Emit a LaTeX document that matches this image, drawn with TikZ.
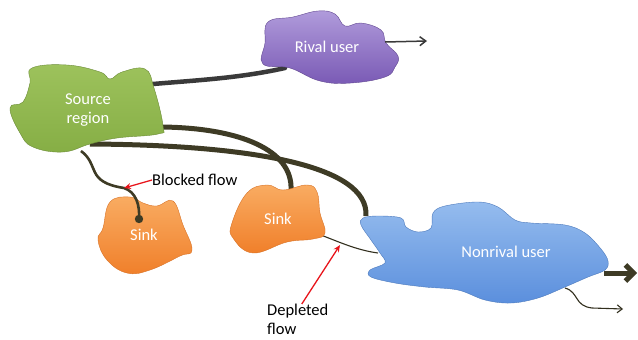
\documentclass[tikz,border=0pt]{standalone}
\usepackage{fontspec}
\setmainfont{Carlito}
\usetikzlibrary{arrows.meta}
\definecolor{flowc}{HTML}{3E3B25}
\definecolor{greyflow}{HTML}{3A3A3A}
\definecolor{redarr}{HTML}{E8141B}
\definecolor{grnT}{HTML}{9DC25C}
\definecolor{grnB}{HTML}{86AE45}
\definecolor{purT}{HTML}{B09BDB}
\definecolor{purB}{HTML}{7A5AB5}
\definecolor{orgT}{HTML}{F9AC62}
\definecolor{orgB}{HTML}{F07F2A}
\definecolor{bluT}{HTML}{95BCEE}
\definecolor{bluB}{HTML}{5B8FDD}
\begin{document}
\begin{tikzpicture}[x=1pt,y=-1pt,
  blob/.style={draw=#1, line width=0.4pt},
  lbl/.style={text=white, font=\fontsize{16.5}{19}\selectfont, align=center, inner sep=0pt},
  txt/.style={text=black, font=\fontsize{16.5}{19}\selectfont, inner sep=0pt},
  thickflow/.style={draw=flowc, line width=5pt},
  midflow/.style={draw=flowc, line width=2.6pt},
  thinflow/.style={draw=flowc!80!black, line width=1.1pt},
  redpointer/.style={draw=redarr, line width=1.3pt, -{Stealth[length=7pt,width=6pt]}}]
\useasboundingbox (0,0) rectangle (638,340);

% connector end points
\coordinate (srcA) at (162,127);
\coordinate (srcB) at (90,144);
\coordinate (srcC) at (81,151);
\coordinate (srcR) at (153,84);
\coordinate (rivIn) at (285,68);
\coordinate (rivOut) at (385,42);
\coordinate (rivEnd) at (427,41);
\coordinate (sinkTwoTop) at (291,190);
\coordinate (sinkTwoRight) at (318,234);
\coordinate (nonTop) at (366,216);
\coordinate (nonLeft) at (378,253);
\coordinate (nonRight) at (604,273);
\coordinate (nonEnd) at (637,273);
\coordinate (nonBottom) at (565,288);
\coordinate (nonBotEnd) at (623,309);
\coordinate (blockPt) at (124,188);
\coordinate (sinkOneDot) at (139,219);
\coordinate (deplPt) at (340,245);

% connectors drawn under the blobs
\draw[line width=4.5pt, draw=greyflow, line cap=round] (srcR) .. controls (200,80) and (240,78) .. (rivIn);
\draw[thickflow] (srcA) .. controls (240,128) and (293,150) .. (sinkTwoTop);
\draw[thickflow] (srcB) .. controls (250,145) and (369,165) .. (nonTop);
\draw[thinflow] (sinkTwoRight) .. controls (335,240) and (355,250) .. (nonLeft);

% blobs
\path[blob=grnB!80!black, top color=grnT, bottom color=grnB]
  plot[smooth cycle, tension=0.7] coordinates {(32,68) (67,65) (100,72) (110,79) (122,72) (145,69) (154,88) (163,126) (158,134) (117,138) (90,144) (63,152) (33,147) (20,133) (10,108) (23,102) (30,83)};
\path[blob=purB!80!black, top color=purT, bottom color=purB]
  plot[smooth cycle, tension=0.7] coordinates {(268,22) (293,17) (318,11) (335,14) (345,26) (361,23) (381,30) (386,43) (398,56) (395,67) (385,77) (351,83) (320,81) (290,68) (263,64) (265,43)};
\path[blob=orgB!90!black, top color=orgT, bottom color=orgB]
  plot[smooth cycle, tension=0.7] coordinates {(110,202) (130,197) (143,203) (157,206) (173,201) (183,225) (192,250) (180,256) (150,270) (127,273) (107,260) (98,240) (103,228)};
\path[blob=orgB!90!black, top color=orgT, bottom color=orgB]
  plot[smooth cycle, tension=0.7] coordinates {(247,193) (267,185) (283,190) (307,185) (317,192) (320,213) (325,233) (313,239) (287,242) (253,253) (233,238) (232,223)};
\path[blob=bluB!85!black, top color=bluT, bottom color=bluB]
  plot[smooth cycle, tension=0.6] coordinates {(363,218) (378,216) (401,218) (406,227) (418,232) (431,228) (433,213) (445,206) (478,202) (498,207) (515,220) (531,223) (565,225) (585,233) (601,249) (608,261) (605,270) (588,277) (565,287) (538,298) (511,303) (485,300) (458,290) (425,287) (395,283) (371,277) (370,270) (385,263) (380,253) (371,240) (361,225)};

% labels in blobs
\node[lbl] (source) at (88,110) {Source\\region};
\node[lbl] (rival) at (327,47) {Rival user};
\node[lbl] (sinkOne) at (144,235) {Sink};
\node[lbl] (sinkTwo) at (278,219) {Sink};
\node[lbl] (nonrival) at (506,252) {Nonrival user};

% connectors on top
\draw[midflow] (srcC) .. controls (100,165) and (85,182) .. (blockPt) .. controls (136,192) and (140,205) .. (sinkOneDot);
\fill[flowc] (sinkOneDot) circle (4.2);
\draw[line width=1.5pt, draw=greyflow, -{Straight Barb[length=6pt,width=9pt]}] (rivOut) -- (rivEnd);
\draw[line width=5pt, draw=flowc, -{Straight Barb[length=8pt,width=16pt]}] (nonRight) -- (nonEnd);
\draw[thinflow, -{Straight Barb[length=5pt,width=8pt]}] (nonBottom) .. controls (579,292) and (574,306) .. (592,308) -- (nonBotEnd);

% annotations
\node[txt, anchor=west] (blocked) at (152,180) {Blocked flow};
\node[txt, anchor=north west, align=left] (depleted) at (267,304) {Depleted\\flow};
\coordinate (deplStart) at ([xshift=4pt]depleted.north);
\draw[redpointer] (blocked.west) -- (blockPt);
\draw[redpointer] (deplStart) -- (deplPt);
\end{tikzpicture}
\end{document}
